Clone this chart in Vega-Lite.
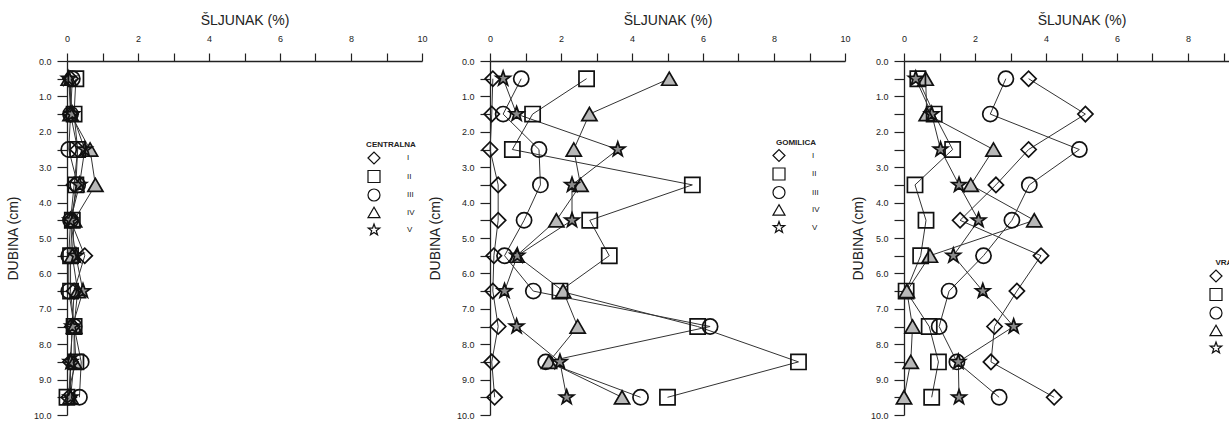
{
  "$schema": "https://vega.github.io/schema/vega-lite/v6.json",
  "padding": {"left": 6, "top": 13, "right": 0, "bottom": 0},
  "config": {
    "view": {"stroke": null},
    "font": "Liberation Sans",
    "axis": {"grid": false, "domainColor": "#222", "tickColor": "#222", "labelColor": "#222", "titleColor": "#222", "domainWidth": 1.3, "tickWidth": 1.2, "labelFontSize": 9, "titleFontSize": 14, "titleFontWeight": "normal"}
  },
  "resolve": {"scale": {"shape": "independent"}, "legend": {"shape": "independent"}},
  "datasets": {
    "d": [
      {"site":"CENTRALNA","series":"I","depth":0.5,"value":0.1},{"site":"CENTRALNA","series":"I","depth":1.5,"value":0.1},{"site":"CENTRALNA","series":"I","depth":2.5,"value":0.3},{"site":"CENTRALNA","series":"I","depth":3.5,"value":0.2},{"site":"CENTRALNA","series":"I","depth":4.5,"value":0.1},{"site":"CENTRALNA","series":"I","depth":5.5,"value":0.5},{"site":"CENTRALNA","series":"I","depth":6.5,"value":0.2},{"site":"CENTRALNA","series":"I","depth":7.5,"value":0.15},{"site":"CENTRALNA","series":"I","depth":8.5,"value":0.1},{"site":"CENTRALNA","series":"I","depth":9.5,"value":0.05},
      {"site":"CENTRALNA","series":"II","depth":0.5,"value":0.25},{"site":"CENTRALNA","series":"II","depth":1.5,"value":0.2},{"site":"CENTRALNA","series":"II","depth":2.5,"value":0.3},{"site":"CENTRALNA","series":"II","depth":3.5,"value":0.25},{"site":"CENTRALNA","series":"II","depth":4.5,"value":0.15},{"site":"CENTRALNA","series":"II","depth":5.5,"value":0.1},{"site":"CENTRALNA","series":"II","depth":6.5,"value":0.1},{"site":"CENTRALNA","series":"II","depth":7.5,"value":0.2},{"site":"CENTRALNA","series":"II","depth":8.5,"value":0.25},{"site":"CENTRALNA","series":"II","depth":9.5,"value":0.0},
      {"site":"CENTRALNA","series":"III","depth":0.5,"value":0.15},{"site":"CENTRALNA","series":"III","depth":1.5,"value":0.1},{"site":"CENTRALNA","series":"III","depth":2.5,"value":0.05},{"site":"CENTRALNA","series":"III","depth":3.5,"value":0.3},{"site":"CENTRALNA","series":"III","depth":4.5,"value":0.1},{"site":"CENTRALNA","series":"III","depth":5.5,"value":0.05},{"site":"CENTRALNA","series":"III","depth":6.5,"value":0.05},{"site":"CENTRALNA","series":"III","depth":7.5,"value":0.2},{"site":"CENTRALNA","series":"III","depth":8.5,"value":0.4},{"site":"CENTRALNA","series":"III","depth":9.5,"value":0.35},
      {"site":"CENTRALNA","series":"IV","depth":0.5,"value":0.05},{"site":"CENTRALNA","series":"IV","depth":1.5,"value":0.1},{"site":"CENTRALNA","series":"IV","depth":2.5,"value":0.65},{"site":"CENTRALNA","series":"IV","depth":3.5,"value":0.8},{"site":"CENTRALNA","series":"IV","depth":4.5,"value":0.2},{"site":"CENTRALNA","series":"IV","depth":5.5,"value":0.15},{"site":"CENTRALNA","series":"IV","depth":6.5,"value":0.3},{"site":"CENTRALNA","series":"IV","depth":7.5,"value":0.2},{"site":"CENTRALNA","series":"IV","depth":8.5,"value":0.2},{"site":"CENTRALNA","series":"IV","depth":9.5,"value":0.1},
      {"site":"CENTRALNA","series":"V","depth":0.5,"value":0.05},{"site":"CENTRALNA","series":"V","depth":1.5,"value":0.15},{"site":"CENTRALNA","series":"V","depth":2.5,"value":0.5},{"site":"CENTRALNA","series":"V","depth":3.5,"value":0.35},{"site":"CENTRALNA","series":"V","depth":4.5,"value":0.1},{"site":"CENTRALNA","series":"V","depth":5.5,"value":0.25},{"site":"CENTRALNA","series":"V","depth":6.5,"value":0.45},{"site":"CENTRALNA","series":"V","depth":7.5,"value":0.15},{"site":"CENTRALNA","series":"V","depth":8.5,"value":0.1},{"site":"CENTRALNA","series":"V","depth":9.5,"value":0.1},
      {"site":"GOMILICA","series":"I","depth":0.5,"value":0.08},{"site":"GOMILICA","series":"I","depth":1.5,"value":0.05},{"site":"GOMILICA","series":"I","depth":2.5,"value":0.0},{"site":"GOMILICA","series":"I","depth":3.5,"value":0.23},{"site":"GOMILICA","series":"I","depth":4.5,"value":0.23},{"site":"GOMILICA","series":"I","depth":5.5,"value":0.11},{"site":"GOMILICA","series":"I","depth":6.5,"value":0.08},{"site":"GOMILICA","series":"I","depth":7.5,"value":0.23},{"site":"GOMILICA","series":"I","depth":8.5,"value":0.05},{"site":"GOMILICA","series":"I","depth":9.5,"value":0.13},
      {"site":"GOMILICA","series":"II","depth":0.5,"value":2.72},{"site":"GOMILICA","series":"II","depth":1.5,"value":1.2},{"site":"GOMILICA","series":"II","depth":2.5,"value":0.63},{"site":"GOMILICA","series":"II","depth":3.5,"value":5.7},{"site":"GOMILICA","series":"II","depth":4.5,"value":2.81},{"site":"GOMILICA","series":"II","depth":5.5,"value":3.36},{"site":"GOMILICA","series":"II","depth":6.5,"value":1.97},{"site":"GOMILICA","series":"II","depth":7.5,"value":5.85},{"site":"GOMILICA","series":"II","depth":8.5,"value":8.69},{"site":"GOMILICA","series":"II","depth":9.5,"value":5.0},
      {"site":"GOMILICA","series":"III","depth":0.5,"value":0.88},{"site":"GOMILICA","series":"III","depth":1.5,"value":0.37},{"site":"GOMILICA","series":"III","depth":2.5,"value":1.38},{"site":"GOMILICA","series":"III","depth":3.5,"value":1.42},{"site":"GOMILICA","series":"III","depth":4.5,"value":0.96},{"site":"GOMILICA","series":"III","depth":5.5,"value":0.41},{"site":"GOMILICA","series":"III","depth":6.5,"value":1.22},{"site":"GOMILICA","series":"III","depth":7.5,"value":6.2},{"site":"GOMILICA","series":"III","depth":8.5,"value":1.57},{"site":"GOMILICA","series":"III","depth":9.5,"value":4.24},
      {"site":"GOMILICA","series":"IV","depth":0.5,"value":5.05},{"site":"GOMILICA","series":"IV","depth":1.5,"value":2.8},{"site":"GOMILICA","series":"IV","depth":2.5,"value":2.36},{"site":"GOMILICA","series":"IV","depth":3.5,"value":2.55},{"site":"GOMILICA","series":"IV","depth":4.5,"value":1.87},{"site":"GOMILICA","series":"IV","depth":5.5,"value":0.75},{"site":"GOMILICA","series":"IV","depth":6.5,"value":2.06},{"site":"GOMILICA","series":"IV","depth":7.5,"value":2.47},{"site":"GOMILICA","series":"IV","depth":8.5,"value":1.66},{"site":"GOMILICA","series":"IV","depth":9.5,"value":3.72},
      {"site":"GOMILICA","series":"V","depth":0.5,"value":0.37},{"site":"GOMILICA","series":"V","depth":1.5,"value":0.75},{"site":"GOMILICA","series":"V","depth":2.5,"value":3.6},{"site":"GOMILICA","series":"V","depth":3.5,"value":2.31},{"site":"GOMILICA","series":"V","depth":4.5,"value":2.31},{"site":"GOMILICA","series":"V","depth":5.5,"value":0.77},{"site":"GOMILICA","series":"V","depth":6.5,"value":0.41},{"site":"GOMILICA","series":"V","depth":7.5,"value":0.75},{"site":"GOMILICA","series":"V","depth":8.5,"value":1.97},{"site":"GOMILICA","series":"V","depth":9.5,"value":2.16},
      {"site":"VRANJIC","series":"I","depth":0.5,"value":3.51},{"site":"VRANJIC","series":"I","depth":1.5,"value":5.11},{"site":"VRANJIC","series":"I","depth":2.5,"value":3.51},{"site":"VRANJIC","series":"I","depth":3.5,"value":2.59},{"site":"VRANJIC","series":"I","depth":4.5,"value":1.58},{"site":"VRANJIC","series":"I","depth":5.5,"value":3.86},{"site":"VRANJIC","series":"I","depth":6.5,"value":3.18},{"site":"VRANJIC","series":"I","depth":7.5,"value":2.55},{"site":"VRANJIC","series":"I","depth":8.5,"value":2.45},{"site":"VRANJIC","series":"I","depth":9.5,"value":4.23},
      {"site":"VRANJIC","series":"II","depth":0.5,"value":0.39},{"site":"VRANJIC","series":"II","depth":1.5,"value":0.85},{"site":"VRANJIC","series":"II","depth":2.5,"value":1.37},{"site":"VRANJIC","series":"II","depth":3.5,"value":0.31},{"site":"VRANJIC","series":"II","depth":4.5,"value":0.62},{"site":"VRANJIC","series":"II","depth":5.5,"value":0.47},{"site":"VRANJIC","series":"II","depth":6.5,"value":0.06},{"site":"VRANJIC","series":"II","depth":7.5,"value":0.71},{"site":"VRANJIC","series":"II","depth":8.5,"value":0.97},{"site":"VRANJIC","series":"II","depth":9.5,"value":0.78},
      {"site":"VRANJIC","series":"III","depth":0.5,"value":2.87},{"site":"VRANJIC","series":"III","depth":1.5,"value":2.43},{"site":"VRANJIC","series":"III","depth":2.5,"value":4.94},{"site":"VRANJIC","series":"III","depth":3.5,"value":3.53},{"site":"VRANJIC","series":"III","depth":4.5,"value":3.04},{"site":"VRANJIC","series":"III","depth":5.5,"value":2.24},{"site":"VRANJIC","series":"III","depth":6.5,"value":1.27},{"site":"VRANJIC","series":"III","depth":7.5,"value":0.99},{"site":"VRANJIC","series":"III","depth":8.5,"value":1.49},{"site":"VRANJIC","series":"III","depth":9.5,"value":2.68},
      {"site":"VRANJIC","series":"IV","depth":0.5,"value":0.61},{"site":"VRANJIC","series":"IV","depth":1.5,"value":0.64},{"site":"VRANJIC","series":"IV","depth":2.5,"value":2.52},{"site":"VRANJIC","series":"IV","depth":3.5,"value":1.88},{"site":"VRANJIC","series":"IV","depth":4.5,"value":3.67},{"site":"VRANJIC","series":"IV","depth":5.5,"value":0.73},{"site":"VRANJIC","series":"IV","depth":6.5,"value":0.08},{"site":"VRANJIC","series":"IV","depth":7.5,"value":0.24},{"site":"VRANJIC","series":"IV","depth":8.5,"value":0.19},{"site":"VRANJIC","series":"IV","depth":9.5,"value":0.0},
      {"site":"VRANJIC","series":"V","depth":0.5,"value":0.33},{"site":"VRANJIC","series":"V","depth":1.5,"value":0.78},{"site":"VRANJIC","series":"V","depth":2.5,"value":1.03},{"site":"VRANJIC","series":"V","depth":3.5,"value":1.55},{"site":"VRANJIC","series":"V","depth":4.5,"value":2.1},{"site":"VRANJIC","series":"V","depth":5.5,"value":1.39},{"site":"VRANJIC","series":"V","depth":6.5,"value":2.22},{"site":"VRANJIC","series":"V","depth":7.5,"value":3.09},{"site":"VRANJIC","series":"V","depth":8.5,"value":1.53},{"site":"VRANJIC","series":"V","depth":9.5,"value":1.55}
    ]
  },
  "spacing": 0,
  "hconcat": [
    {
      "width": 355, "height": 354,
      "data": {"name": "d"},
      "transform": [{"filter": "datum.site === 'CENTRALNA'"}],
      "encoding": {
        "x": {"field": "value", "type": "quantitative", "scale": {"domain": [0, 10]},
          "axis": {"orient": "top", "title": "ŠLJUNAK (%)", "values": [0,1,2,3,4,5,6,7,8,9,10], "labelExpr": "datum.value % 2 === 0 ? datum.label : ''", "tickSize": 8, "labelPadding": 10, "titlePadding": 7, "labelFlush": false}},
        "y": {"field": "depth", "type": "quantitative", "scale": {"domain": [0, 10], "reverse": true},
          "axis": {"title": "DUBINA (cm)", "values": [0,0.5,1,1.5,2,2.5,3,3.5,4,4.5,5,5.5,6,6.5,7,7.5,8,8.5,9,9.5,10], "labelExpr": "datum.value % 1 === 0 ? datum.label : ''", "tickSize": 10, "labelPadding": 6, "titlePadding": 13, "labelFlush": false}}
      },
      "layer": [
        {"mark": {"type": "line", "color": "#333", "strokeWidth": 1}, "encoding": {"detail": {"field": "series"}, "order": {"field": "depth"}}},
        {"transform": [{"filter": "datum.series === 'IV'"}], "mark": {"type": "point", "shape": "triangle-up", "filled": true, "color": "#b8b8b8", "size": 240, "opacity": 1}, "encoding": {}},
        {"transform": [{"filter": "datum.series === 'V'"}], "mark": {"type": "point", "shape": "M0,-1L0.235,-0.324L0.951,-0.309L0.38,0.124L0.588,0.809L0,0.4L-0.588,0.809L-0.38,0.124L-0.951,-0.309L-0.235,-0.324Z", "filled": true, "color": "#8c8c8c", "size": 240, "opacity": 1}, "encoding": {}},
        {"mark": {"type": "point", "color": "#111", "size": 230, "strokeWidth": 1.7, "opacity": 1},
          "encoding": {
            "shape": {"field": "series", "type": "nominal", "scale": {"domain": ["I","II","III","IV","V"], "range": ["diamond","square","circle","triangle-up","M0,-1L0.235,-0.324L0.951,-0.309L0.38,0.124L0.588,0.809L0,0.4L-0.588,0.809L-0.38,0.124L-0.951,-0.309L-0.235,-0.324Z"]},
              "legend": {"title": "CENTRALNA", "orient": "none", "legendX": 299, "legendY": 80, "symbolSize": 144, "symbolStrokeWidth": 1.2, "labelOffset": 26, "labelFontSize": 8, "titleFontSize": 8, "titleFontWeight": "bold", "titleAnchor": "middle", "titlePadding": 2, "rowPadding": 0.5, "padding": 0, "labelColor": "#222", "titleColor": "#222",
                "encode": {"symbols": {"update": {
                  "shape": {"signal": "datum.value === 'I' ? 'M-4.75,0L-0.7,0M0.7,0L4.75,0M-0.7,0L0,-0.7L0.7,0L0,0.7Z' : datum.value === 'II' ? 'M-4.75,0L-0.83,0M0.83,0L4.75,0M-0.83,-0.83L0.83,-0.83L0.83,0.83L-0.83,0.83Z' : datum.value === 'III' ? 'M-4.75,0L-0.8,0M0.8,0L4.75,0M0.8,0L0.693,0.4L0.4,0.693L0,0.8L-0.4,0.693L-0.693,0.4L-0.8,0L-0.693,-0.4L-0.4,-0.693L0,-0.8L0.4,-0.693L0.693,-0.4Z' : datum.value === 'IV' ? 'M-4.75,0L4.75,0M0,-0.85L0.75,0.35L-0.75,0.35Z' : 'M-4.75,0L4.75,0M0,-0.85L0.206,-0.283L0.808,-0.263L0.333,0.108L0.5,0.688L0,0.35L-0.5,0.688L-0.333,0.108L-0.808,-0.263L-0.206,-0.283Z'"},
                  "fill": {"signal": "datum.value === 'IV' || datum.value === 'V' ? '#111' : '#fff'"},
                  "stroke": {"value": "#111"}}}}}}
          }}
      ]
    },
    {
      "width": 355, "height": 354,
      "data": {"name": "d"},
      "transform": [{"filter": "datum.site === 'GOMILICA'"}],
      "encoding": {
        "x": {"field": "value", "type": "quantitative", "scale": {"domain": [0, 10]},
          "axis": {"orient": "top", "title": "ŠLJUNAK (%)", "values": [0,1,2,3,4,5,6,7,8,9,10], "labelExpr": "datum.value % 2 === 0 ? datum.label : ''", "tickSize": 8, "labelPadding": 10, "titlePadding": 7, "labelFlush": false}},
        "y": {"field": "depth", "type": "quantitative", "scale": {"domain": [0, 10], "reverse": true},
          "axis": {"title": "DUBINA (cm)", "values": [0,0.5,1,1.5,2,2.5,3,3.5,4,4.5,5,5.5,6,6.5,7,7.5,8,8.5,9,9.5,10], "labelExpr": "datum.value % 1 === 0 ? datum.label : ''", "tickSize": 10, "labelPadding": 6, "titlePadding": 14, "labelFlush": false}}
      },
      "layer": [
        {"mark": {"type": "line", "color": "#333", "strokeWidth": 1}, "encoding": {"detail": {"field": "series"}, "order": {"field": "depth"}}},
        {"transform": [{"filter": "datum.series === 'IV'"}], "mark": {"type": "point", "shape": "triangle-up", "filled": true, "color": "#b8b8b8", "size": 240, "opacity": 1}, "encoding": {}},
        {"transform": [{"filter": "datum.series === 'V'"}], "mark": {"type": "point", "shape": "M0,-1L0.235,-0.324L0.951,-0.309L0.38,0.124L0.588,0.809L0,0.4L-0.588,0.809L-0.38,0.124L-0.951,-0.309L-0.235,-0.324Z", "filled": true, "color": "#8c8c8c", "size": 240, "opacity": 1}, "encoding": {}},
        {"mark": {"type": "point", "color": "#111", "size": 230, "strokeWidth": 1.7, "opacity": 1},
          "encoding": {
            "shape": {"field": "series", "type": "nominal", "scale": {"domain": ["I","II","III","IV","V"], "range": ["diamond","square","circle","triangle-up","M0,-1L0.235,-0.324L0.951,-0.309L0.38,0.124L0.588,0.809L0,0.4L-0.588,0.809L-0.38,0.124L-0.951,-0.309L-0.235,-0.324Z"]},
              "legend": {"title": "GOMILICA", "orient": "none", "legendX": 282, "legendY": 77.5, "symbolSize": 144, "symbolStrokeWidth": 1.2, "labelOffset": 26, "labelFontSize": 8, "titleFontSize": 8, "titleFontWeight": "bold", "titleAnchor": "middle", "titlePadding": 2, "rowPadding": 0.5, "padding": 0, "labelColor": "#222", "titleColor": "#222",
                "encode": {"symbols": {"update": {
                  "shape": {"signal": "datum.value === 'I' ? 'M-4.75,0L-0.7,0M0.7,0L4.75,0M-0.7,0L0,-0.7L0.7,0L0,0.7Z' : datum.value === 'II' ? 'M-4.75,0L-0.83,0M0.83,0L4.75,0M-0.83,-0.83L0.83,-0.83L0.83,0.83L-0.83,0.83Z' : datum.value === 'III' ? 'M-4.75,0L-0.8,0M0.8,0L4.75,0M0.8,0L0.693,0.4L0.4,0.693L0,0.8L-0.4,0.693L-0.693,0.4L-0.8,0L-0.693,-0.4L-0.4,-0.693L0,-0.8L0.4,-0.693L0.693,-0.4Z' : datum.value === 'IV' ? 'M-4.75,0L4.75,0M0,-0.85L0.75,0.35L-0.75,0.35Z' : 'M-4.75,0L4.75,0M0,-0.85L0.206,-0.283L0.808,-0.263L0.333,0.108L0.5,0.688L0,0.35L-0.5,0.688L-0.333,0.108L-0.808,-0.263L-0.206,-0.283Z'"},
                  "fill": {"signal": "datum.value === 'IV' || datum.value === 'V' ? '#111' : '#fff'"},
                  "stroke": {"value": "#111"}}}}}}
          }}
      ]
    },
    {
      "width": 355, "height": 354,
      "data": {"name": "d"},
      "transform": [{"filter": "datum.site === 'VRANJIC'"}],
      "encoding": {
        "x": {"field": "value", "type": "quantitative", "scale": {"domain": [0, 10]},
          "axis": {"orient": "top", "title": "ŠLJUNAK (%)", "values": [0,1,2,3,4,5,6,7,8,9,10], "labelExpr": "datum.value % 2 === 0 ? datum.label : ''", "tickSize": 8, "labelPadding": 10, "titlePadding": 7, "labelFlush": false}},
        "y": {"field": "depth", "type": "quantitative", "scale": {"domain": [0, 10], "reverse": true},
          "axis": {"title": "DUBINA (cm)", "values": [0,0.5,1,1.5,2,2.5,3,3.5,4,4.5,5,5.5,6,6.5,7,7.5,8,8.5,9,9.5,10], "labelExpr": "datum.value % 1 === 0 ? datum.label : ''", "tickSize": 10, "labelPadding": 6, "titlePadding": 5, "labelFlush": false}}
      },
      "layer": [
        {"mark": {"type": "line", "color": "#333", "strokeWidth": 1}, "encoding": {"detail": {"field": "series"}, "order": {"field": "depth"}}},
        {"transform": [{"filter": "datum.series === 'IV'"}], "mark": {"type": "point", "shape": "triangle-up", "filled": true, "color": "#b8b8b8", "size": 240, "opacity": 1}, "encoding": {}},
        {"transform": [{"filter": "datum.series === 'V'"}], "mark": {"type": "point", "shape": "M0,-1L0.235,-0.324L0.951,-0.309L0.38,0.124L0.588,0.809L0,0.4L-0.588,0.809L-0.38,0.124L-0.951,-0.309L-0.235,-0.324Z", "filled": true, "color": "#8c8c8c", "size": 240, "opacity": 1}, "encoding": {}},
        {"mark": {"type": "point", "color": "#111", "size": 230, "strokeWidth": 1.7, "opacity": 1},
          "encoding": {
            "shape": {"field": "series", "type": "nominal", "scale": {"domain": ["I","II","III","IV","V"], "range": ["diamond","square","circle","triangle-up","M0,-1L0.235,-0.324L0.951,-0.309L0.38,0.124L0.588,0.809L0,0.4L-0.588,0.809L-0.38,0.124L-0.951,-0.309L-0.235,-0.324Z"]},
              "legend": {"title": "VRANJIC", "orient": "none", "legendX": 305, "legendY": 198, "symbolSize": 144, "symbolStrokeWidth": 1.2, "labelOffset": 26, "labelFontSize": 8, "titleFontSize": 8, "titleFontWeight": "bold", "titleAnchor": "middle", "titlePadding": 2, "rowPadding": 0.5, "padding": 0, "labelColor": "#222", "titleColor": "#222",
                "encode": {"symbols": {"update": {
                  "shape": {"signal": "datum.value === 'I' ? 'M-4.75,0L-0.7,0M0.7,0L4.75,0M-0.7,0L0,-0.7L0.7,0L0,0.7Z' : datum.value === 'II' ? 'M-4.75,0L-0.83,0M0.83,0L4.75,0M-0.83,-0.83L0.83,-0.83L0.83,0.83L-0.83,0.83Z' : datum.value === 'III' ? 'M-4.75,0L-0.8,0M0.8,0L4.75,0M0.8,0L0.693,0.4L0.4,0.693L0,0.8L-0.4,0.693L-0.693,0.4L-0.8,0L-0.693,-0.4L-0.4,-0.693L0,-0.8L0.4,-0.693L0.693,-0.4Z' : datum.value === 'IV' ? 'M-4.75,0L4.75,0M0,-0.85L0.75,0.35L-0.75,0.35Z' : 'M-4.75,0L4.75,0M0,-0.85L0.206,-0.283L0.808,-0.263L0.333,0.108L0.5,0.688L0,0.35L-0.5,0.688L-0.333,0.108L-0.808,-0.263L-0.206,-0.283Z'"},
                  "fill": {"signal": "datum.value === 'IV' || datum.value === 'V' ? '#111' : '#fff'"},
                  "stroke": {"value": "#111"}}}}}}
          }}
      ]
    }
  ]
}
